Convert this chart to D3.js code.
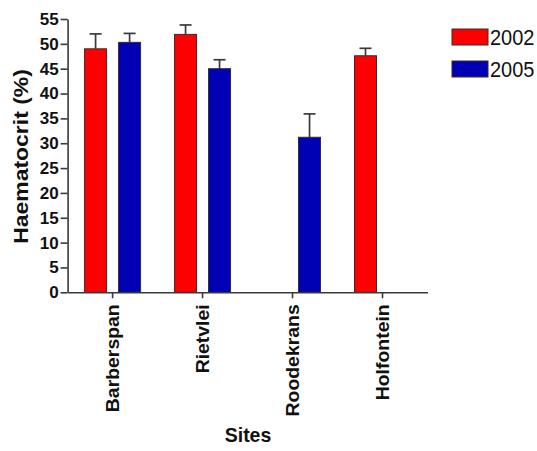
<!DOCTYPE html>
<html>
<head>
<meta charset="utf-8">
<script src="https://cdn.jsdelivr.net/npm/d3@7/dist/d3.min.js"></script>
<style>
  html, body { margin: 0; padding: 0; background: #fff; }
  svg { display: block; }
  text { font-family: Arial, "Liberation Sans", Helvetica, sans-serif; fill: #111; }
</style>
</head>
<body>
<svg id="chart" width="537" height="451"></svg>
<script>
// Haematocrit by site and survey year (mean with upper error bar)
const sites = ["Barberspan", "Rietvlei", "Roodekrans", "Holfontein"];
const years = ["2002", "2005"];
const values2002 = [49.0, 51.9, null, 47.6];
const errors2002 = [3.0, 1.9, null, 1.5];
const values2005 = [50.3, 45.0, 31.2, null];
const errors2005 = [1.8, 1.8, 4.7, null];
const yTicks = [0, 5, 10, 15, 20, 25, 30, 35, 40, 45, 50, 55];
const colors = { "2002": "#ff0000", "2005": "#0000b4" };

const series = [
  { year: "2002", values: values2002, errors: errors2002 },
  { year: "2005", values: values2005, errors: errors2005 }
];

const svg = d3.select("#chart");
const axisColor = "#3a3a3a";

const y = d3.scaleLinear().domain([0, 55]).range([292.3, 19]);
const x = d3.scaleBand().domain(sites).range([67.6, 427.5]).padding(0);
const xInner = d3.scaleBand().domain(years).range([-28, 28]).paddingInner(0.353).paddingOuter(0);

const barCenter = d => x(d.site) + x.bandwidth() / 2 + xInner(d.year) + xInner.bandwidth() / 2;

// Bars and error bars
const barData = [];
series.forEach(s => {
  sites.forEach((site, i) => {
    if (s.values[i] != null) {
      barData.push({ site, year: s.year, value: s.values[i], err: s.errors[i] });
    }
  });
});

const bars = svg.append("g");
bars.selectAll("line.err")
  .data(barData)
  .join("line")
  .attr("class", "err")
  .attr("x1", barCenter)
  .attr("x2", barCenter)
  .attr("y1", d => y(d.value))
  .attr("y2", d => y(d.value + d.err))
  .attr("stroke", axisColor)
  .attr("stroke-width", 1.7);

bars.selectAll("line.cap")
  .data(barData)
  .join("line")
  .attr("class", "cap")
  .attr("x1", d => barCenter(d) - 6)
  .attr("x2", d => barCenter(d) + 6)
  .attr("y1", d => y(d.value + d.err))
  .attr("y2", d => y(d.value + d.err))
  .attr("stroke", axisColor)
  .attr("stroke-width", 1.7);

bars.selectAll("rect")
  .data(barData)
  .join("rect")
  .attr("x", d => x(d.site) + x.bandwidth() / 2 + xInner(d.year))
  .attr("width", xInner.bandwidth())
  .attr("y", d => y(d.value))
  .attr("height", d => y(0) - y(d.value))
  .attr("fill", d => colors[d.year])
  .attr("stroke", "#3a2a2a")
  .attr("stroke-width", 1);

// Y axis
const yAxis = svg.append("g")
  .attr("transform", `translate(${x.range()[0]},0)`)
  .call(d3.axisLeft(y).tickValues(yTicks).tickSize(7).tickSizeOuter(0).tickPadding(2));
yAxis.selectAll("path, line").attr("stroke", axisColor).attr("stroke-width", 1.6);
yAxis.selectAll("text")
  .attr("font-size", 17)
  .attr("font-weight", "bold")
  .attr("font-family", "Arial, 'Liberation Sans', sans-serif")
  .attr("fill", "#111");

// X axis
const xAxis = svg.append("g")
  .attr("transform", `translate(0,${y(0)})`)
  .call(d3.axisBottom(x).tickSize(6).tickSizeOuter(0).tickPadding(4));
xAxis.selectAll("path, line").attr("stroke", axisColor).attr("stroke-width", 1.6);
xAxis.selectAll("text")
  .attr("font-size", 17.5)
  .attr("font-weight", "bold")
  .attr("font-family", "Arial, 'Liberation Sans', sans-serif")
  .attr("fill", "#111")
  .attr("text-anchor", "end")
  .attr("x", 0)
  .attr("y", 0)
  .attr("dy", "0.35em")
  .attr("transform", "translate(0,12) scale(1,1.11) rotate(-90)");

// Axis titles
svg.append("text")
  .attr("transform", "translate(28,156.5) scale(1,1.12) rotate(-90)")
  .attr("text-anchor", "middle")
  .attr("font-size", 20.5)
  .attr("font-weight", "bold")
  .text("Haematocrit (%)");

svg.append("text")
  .attr("transform", "translate(248,442) scale(1,1.08)")
  .attr("text-anchor", "middle")
  .attr("font-size", 19.5)
  .attr("font-weight", "bold")
  .text("Sites");

// Legend
const legend = svg.append("g");
const legendRows = legend.selectAll("g")
  .data(years)
  .join("g")
  .attr("transform", (d, i) => `translate(452,${29 + i * 32})`);
legendRows.append("rect")
  .attr("width", 36)
  .attr("height", 16)
  .attr("fill", d => colors[d])
  .attr("stroke", "#3a2a2a")
  .attr("stroke-width", 1);
legendRows.append("text")
  .attr("transform", "translate(38,16) scale(1,1.1)")
  .attr("font-size", 20)
  .attr("fill", "#222")
  .text(d => d);
</script>
</body>
</html>
